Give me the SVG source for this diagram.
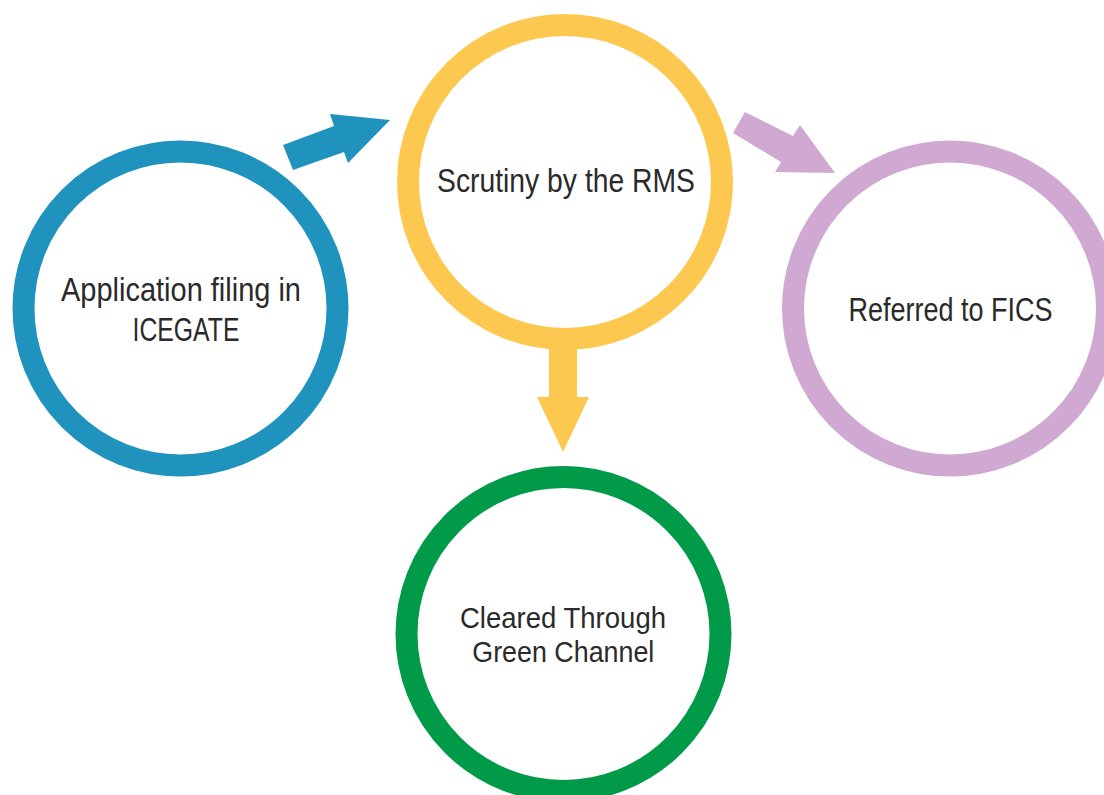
<svg xmlns="http://www.w3.org/2000/svg" width="1104" height="795" viewBox="0 0 1104 795">
  <style>
    .ring { fill: #ffffff; stroke-width: 22; }
    .lbl { font-family: "Liberation Sans Narrow", "Liberation Sans", Arial, sans-serif; font-stretch: condensed; font-size: 33px; fill: #2a2a2a; text-anchor: middle; }
    .lbl2 { font-size: 30px; }
  </style>
  <rect width="1104" height="795" fill="#ffffff"/>
  <g id="connectors">
    <polygon id="arrow-blue" fill="#1f93be" points="283,145 334,126 330,114 390,120 348,163 344,152 293,170"/>
    <polygon id="arrow-purple" fill="#d0a9d2" points="745,112 793,136 800,125 835,173 775,172 781,162 733,133"/>
  </g>
  <g id="node-application">
    <circle class="ring" cx="180.5" cy="308.5" r="157" stroke="#1f93be"/>
    <text class="lbl" x="181" y="300.5" textLength="240" lengthAdjust="spacingAndGlyphs">Application filing in</text>
    <text class="lbl" x="186" y="340.5" textLength="107" lengthAdjust="spacingAndGlyphs">ICEGATE</text>
  </g>
  <g id="node-scrutiny">
    <circle class="ring" cx="565" cy="182" r="157" stroke="#fcc850"/>
    <text class="lbl" x="566" y="191.5" textLength="258" lengthAdjust="spacingAndGlyphs">Scrutiny by the RMS</text>
  </g>
  <g id="node-fics">
    <circle class="ring" cx="950" cy="308.5" r="157" stroke="#d0a9d2"/>
    <text class="lbl" x="950.5" y="320.5" textLength="204" lengthAdjust="spacingAndGlyphs">Referred to FICS</text>
  </g>
  <g id="node-green">
    <circle class="ring" cx="563.5" cy="634" r="157" stroke="#009a48"/>
    <text class="lbl lbl2" x="563" y="628" textLength="206" lengthAdjust="spacingAndGlyphs">Cleared Through</text>
    <text class="lbl lbl2" x="563.3" y="662" textLength="182" lengthAdjust="spacingAndGlyphs">Green Channel</text>
  </g>
  <g id="connector-down">
    <polygon id="arrow-yellow" fill="#fcc850" points="549,335 577,335 577,397 589,397 563,452 537,397 549,397"/>
  </g>
</svg>
